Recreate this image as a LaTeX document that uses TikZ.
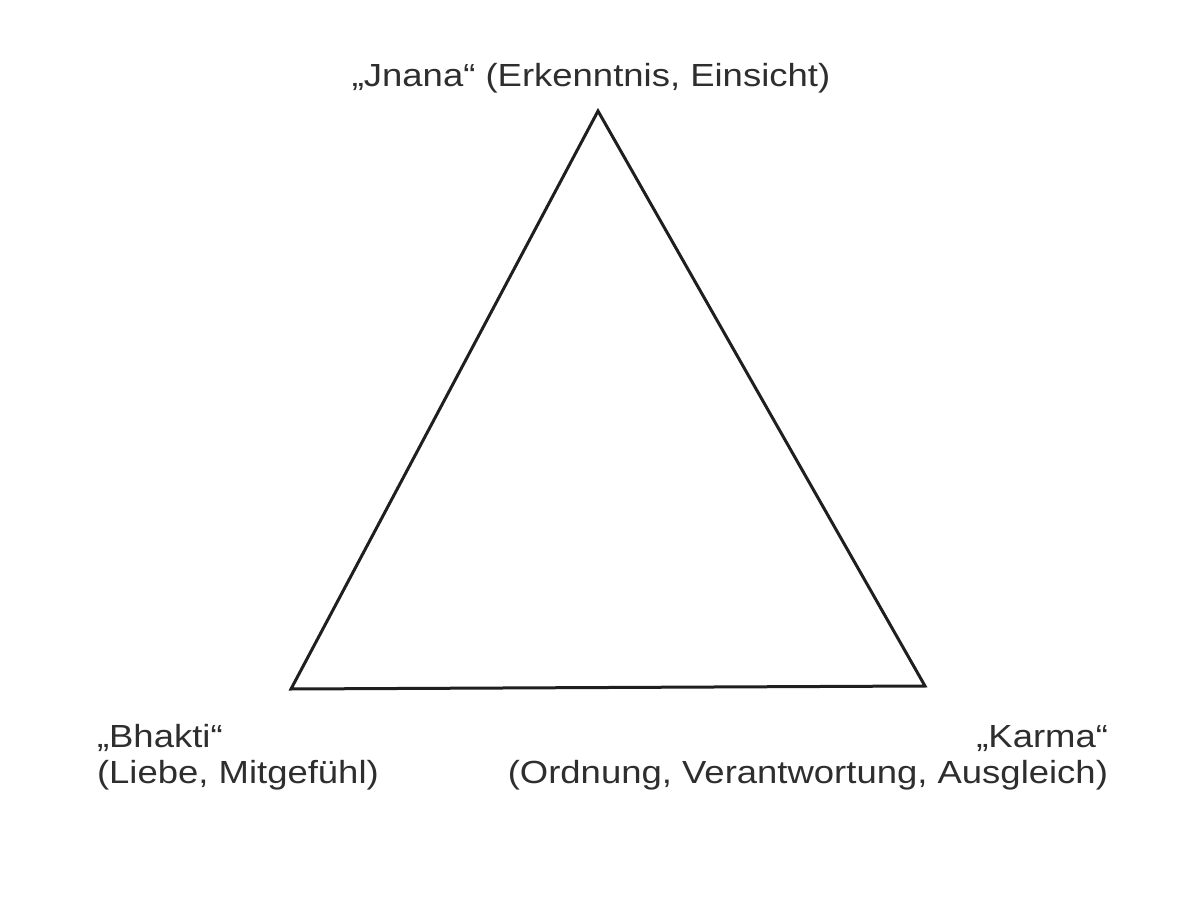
\documentclass[tikz,border=0pt]{standalone}
\usepackage{fontspec}
\setmainfont[FakeStretch=1.14]{Liberation Sans}
\begin{document}
\begin{tikzpicture}[x=0.5pt,y=-0.5pt,
  lbl/.style={inner sep=0pt, outer sep=0pt, text=black!82, font=\fontsize{16}{17}\selectfont},
  edge/.style={draw=black!88, line width=1.5pt, line join=miter}]
\useasboundingbox (0,0) rectangle (1193,897);
\coordinate (J) at (598,111);
\coordinate (B) at (291,689);
\coordinate (K) at (925,686);
\draw[edge] (J) -- (B) -- (K) -- cycle;
\node[lbl, anchor=base] (jnana) at (591,87) {„Jnana“ (Erkenntnis, Einsicht)};
\node[lbl, anchor=base west] (bhakti) at (97,747) {„Bhakti“};
\node[lbl, anchor=base west] (bhakti2) at (97,783) {(Liebe, Mitgefühl)};
\node[lbl, anchor=base east] (karma) at (1108,747) {„Karma“};
\node[lbl, anchor=base east] (karma2) at (1108,783) {(Ordnung, Verantwortung, Ausgleich)};
\end{tikzpicture}
\end{document}
